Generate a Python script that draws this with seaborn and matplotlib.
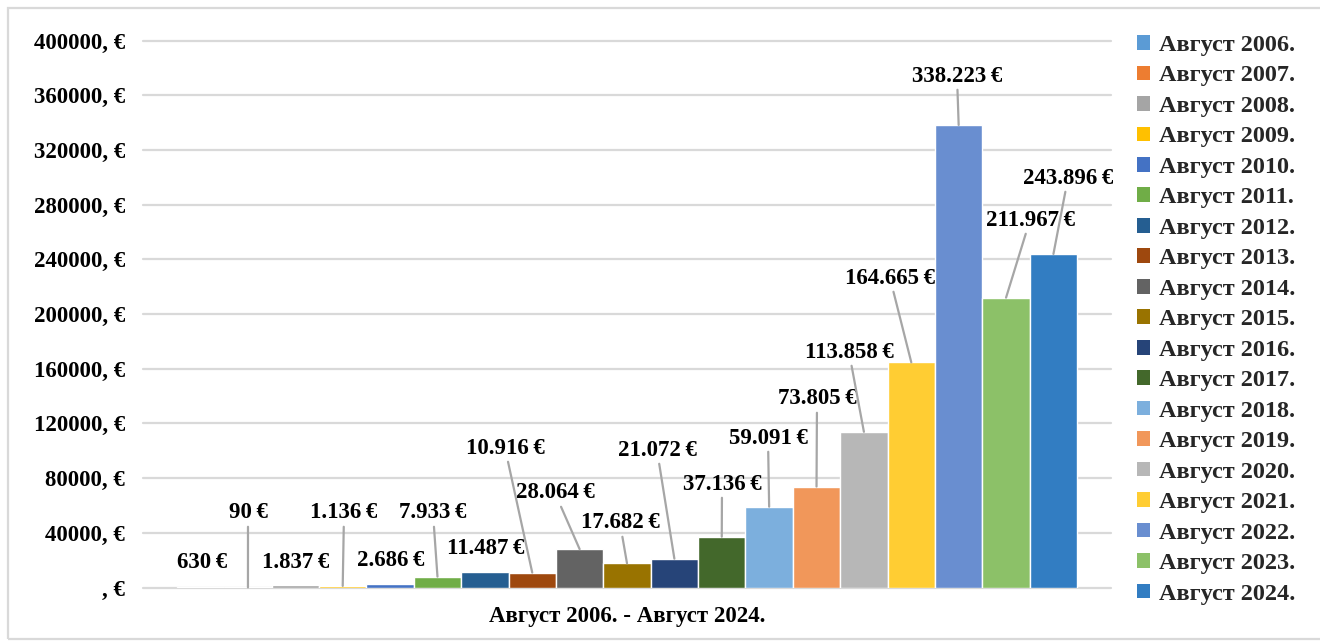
import matplotlib
matplotlib.use("Agg")
import matplotlib.pyplot as plt
import seaborn as sns
import pandas as pd
from matplotlib.patches import Rectangle

# ---------------- data ----------------
category = "Август 2006. - Август 2024."
years = ["Август 2006.", "Август 2007.", "Август 2008.", "Август 2009.", "Август 2010.",
         "Август 2011.", "Август 2012.", "Август 2013.", "Август 2014.", "Август 2015.",
         "Август 2016.", "Август 2017.", "Август 2018.", "Август 2019.", "Август 2020.",
         "Август 2021.", "Август 2022.", "Август 2023.", "Август 2024."]
values = [630, 90, 1837, 1136, 2686, 7933, 11487, 10916, 28064, 17682,
          21072, 37136, 59091, 73805, 113858, 164665, 338223, 211967, 243896]
value_labels = ["630\u2009€", "90\u2009€", "1.837\u2009€", "1.136\u2009€", "2.686\u2009€",
                "7.933\u2009€", "11.487\u2009€", "10.916\u2009€", "28.064\u2009€",
                "17.682\u2009€", "21.072\u2009€", "37.136\u2009€", "59.091\u2009€",
                "73.805\u2009€", "113.858\u2009€", "164.665\u2009€", "338.223\u2009€",
                "211.967\u2009€", "243.896\u2009€"]
yticks = [0, 40000, 80000, 120000, 160000, 200000, 240000, 280000, 320000, 360000, 400000]
ytick_labels = [", €", "40000, €", "80000, €", "120000, €", "160000, €", "200000, €",
                "240000, €", "280000, €", "320000, €", "360000, €", "400000, €"]

# ---------------- style ----------------
colors = ["#5B9BD5", "#ED7D31", "#A5A5A5", "#FFC000", "#4472C4", "#70AD47", "#255E91",
          "#9E480E", "#636363", "#997300", "#264478", "#43682B", "#7CAFDD", "#F1975A",
          "#B7B7B7", "#FFCD33", "#698ED0", "#8CC168", "#327DC2"]
# label centres in image pixels (x, y from top) and whether a leader line is drawn
label_pos = [(202, 562), (248, 513), (296, 562), (344, 513), (391, 560), (433, 513),
             (486, 548), (505, 448), (555, 493), (620, 523), (657, 450), (722, 484),
             (768, 438), (817, 399), (849, 352), (890, 278), (957, 76), (1030, 220),
             (1068, 178)]
leader = [False, True, False, True, False, True, False, True, True, True, True, True,
          True, True, True, True, True, True, True]

W, H = 1320, 642
FS = 16.5
sns.set_theme(style="white")
plt.rcParams["font.family"] = ["Liberation Serif", "DejaVu Serif"]
plt.rcParams["font.weight"] = "bold"

fig = plt.figure(figsize=(W / 100, H / 100), dpi=100)
ax = fig.add_axes([143 / W, 1 - 587.5 / H, (1111 - 143) / W, (587.5 - 40.5) / H])

df = pd.DataFrame({"period": [category] * len(values), "year": years, "value": values})
sns.barplot(data=df, x="period", y="value", hue="year", hue_order=years,
            palette=colors, saturation=1, width=0.93, errorbar=None,
            legend=False, ax=ax)

ax.set_xlim(-0.5, 0.5)
ax.set_ylim(0, 400000)
ax.set_yticks(yticks, ytick_labels)
ax.set_xticks([0], [category])
ax.set_xlabel("")
ax.set_ylabel("")
for s in ax.spines.values():
    s.set_visible(False)
ax.yaxis.grid(True, color="#D9D9D9", lw=1.6)
ax.set_axisbelow(True)
for gl in ax.get_ygridlines():
    gl.set_clip_on(False)
ax.tick_params(axis="y", length=0, pad=13, labelsize=FS, labelcolor="black")
ax.tick_params(axis="x", length=0, pad=13, labelsize=FS, labelcolor="black")
for t in ax.get_yticklabels() + ax.get_xticklabels():
    t.set_fontweight("bold")

# data labels with leader lines
bars = [c.patches[0] for c in ax.containers]
for bar, txt, (px, py), has_line in zip(bars, value_labels, label_pos, leader):
    cx = bar.get_x() + bar.get_width() / 2
    top = bar.get_y() + bar.get_height()
    ax.annotate(txt, xy=(cx, top), xycoords="data",
                xytext=(px, H - py), textcoords="figure pixels",
                ha="center", va="center", fontsize=FS, fontweight="bold", color="black",
                arrowprops=(dict(arrowstyle="-", color="#A6A6A6", lw=1.6,
                                 shrinkA=0, shrinkB=0) if has_line else None),
                annotation_clip=False)

# legend
handles = [Rectangle((0, 0), 1, 1, facecolor=c, edgecolor="none") for c in colors]
fig.legend(handles, years, loc="upper left",
           bbox_to_anchor=(1137 / W, 1 - 35 / H), bbox_transform=fig.transFigure,
           frameon=False, prop={"size": 17.5, "weight": "bold"},
           handlelength=0.55, handleheight=0.55, handletextpad=0.35,
           labelspacing=0.39, borderaxespad=0, borderpad=0)

# outer chart border
fig.patches.append(Rectangle((8 / W, 3 / H), (W + 20) / W, (H - 11) / H,
                             transform=fig.transFigure, fill=False,
                             edgecolor="#D9D9D9", lw=1.6))

fig.savefig("out.png", dpi=100)
